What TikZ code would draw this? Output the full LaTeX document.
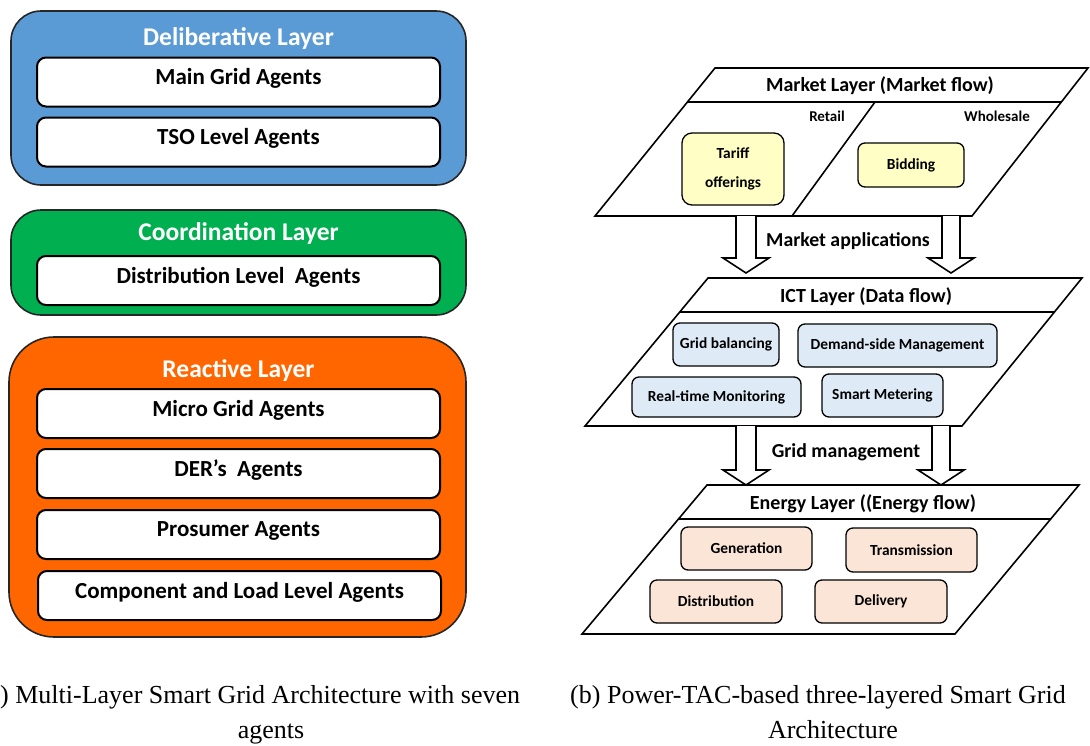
\documentclass[tikz,border=0pt]{standalone}
\usepackage{fontspec}
\setmainfont{Carlito}
\newfontfamily\captionfont{Liberation Serif}

\definecolor{delibblue}{HTML}{5B9BD5}
\definecolor{coordgreen}{HTML}{00B050}
\definecolor{reactorange}{HTML}{FF6600}
\definecolor{marketfill}{HTML}{FFFFC5}
\definecolor{ictfill}{HTML}{DEEBF7}
\definecolor{energyfill}{HTML}{FBE5D6}

% hollow arrow between two planes: x, top y, tip y, half shaft width
\newcommand{\flowarrow}[4]{%
  \draw[flowline] (#1-#4,#2) -- (#1-#4,#3-15) -- (#1-23,#3-15) -- (#1,#3)
    -- (#1+23,#3-15) -- (#1+#4,#3-15) -- (#1+#4,#2);}

\begin{document}
\begin{tikzpicture}[
    x=1pt, y=-1pt,
    layerbox/.style={
        rectangle,
        rounded corners=30pt,
        draw=black!85,
        line width=1.6pt,
        minimum width=455pt
    },
    layertitle/.style={text=white, font=\fontsize{25.5}{30}\selectfont\bfseries},
    agent/.style={
        rectangle,
        rounded corners=9pt,
        draw,
        line width=2pt,
        fill=white,
        minimum width=403pt,
        minimum height=49pt,
        text depth=11pt,
        font=\fontsize{23}{27}\selectfont\bfseries
    },
    plane/.style={draw, line width=1.6pt, fill=white, line join=miter},
    planetitle/.style={font=\fontsize{20}{24}\selectfont\bfseries},
    task/.style={
        rectangle,
        rounded corners=7pt,
        draw,
        line width=1.3pt,
        minimum height=43pt,
        font=\fontsize{15.4}{18}\selectfont\bfseries
    },
    flowline/.style={draw, line width=1.6pt, fill=white, line join=miter},
    flowlabel/.style={font=\fontsize{19.8}{23}\selectfont\bfseries},
    figcap/.style={font=\fontsize{26}{35}\selectfont\captionfont, inner sep=0pt, anchor=base}
]
    \useasboundingbox (0,0) rectangle (1090,745);

    % Deliberative layer
    \node[layerbox, fill=delibblue, minimum height=174pt] (delib) at (238.5,98) {};
    \node[layertitle] (delibtitle) at (238.5,39) {Deliberative Layer};
    \node[agent] (maingrid) at (238.5,82) {Main Grid Agents};
    \node[agent] (tso) at (238.5,142) {TSO Level Agents};

    % Coordination layer
    \node[layerbox, fill=coordgreen, minimum height=105pt] (coord) at (238.5,262.5) {};
    \node[layertitle] (coordtitle) at (238.5,234) {Coordination Layer};
    \node[agent] (distlevel) at (238.5,280.5) {Distribution Level\ \ Agents};

    % Reactive layer
    \node[layerbox, fill=reactorange, rounded corners=45pt, minimum width=457pt, minimum height=300pt] (react) at (237.5,487) {};
    \node[layertitle] (reacttitle) at (238.5,371) {Reactive Layer};
    \node[agent] (micro) at (238.5,413.5) {Micro Grid Agents};
    \node[agent] (der) at (238.5,473.5) {DER’s\ \ Agents};
    \node[agent] (prosumer) at (238.5,534.5) {Prosumer Agents};
    \node[agent] (component) at (239.5,595.5) {Component and Load Level Agents};

    % Market plane
    \draw[plane] (715,68) -- (1088,68) -- (972,216) -- (595,216) -- cycle;
    \draw[line width=1.6pt] (687.5,102) -- (1061,102);
    \draw[line width=1.6pt] (875,102) -- (792,216);
    \node[planetitle] (markettitle) at (880,86) {Market Layer (Market flow)};
    \node[font=\fontsize{15}{18}\selectfont\bfseries] (retail) at (827,116) {Retail};
    \node[font=\fontsize{15}{18}\selectfont\bfseries] (wholesale) at (997,116) {Wholesale};
    \node[task, fill=marketfill, minimum width=102pt, minimum height=72pt, rounded corners=10pt, align=center] (tariff) at (733,169) {Tariff\\[11pt]offerings};
    \node[task, fill=marketfill, minimum width=106pt, minimum height=44pt] (bidding) at (911,165) {Bidding};

    % Arrows market -> ICT
    \flowarrow{746}{216}{273}{10}
    \flowarrow{951}{216}{273}{9}
    \node[flowlabel] (marketapps) at (848,241) {Market applications};

    % ICT plane
    \draw[plane] (708,278) -- (1082,278) -- (962,426) -- (585,426) -- cycle;
    \draw[line width=1.6pt] (680,312) -- (1054.5,312);
    \node[planetitle] (icttitle) at (866,297) {ICT Layer (Data flow)};
    \node[task, fill=ictfill, minimum width=106pt] (gridbal) at (726,344.5) {Grid balancing};
    \node[task, fill=ictfill, minimum width=199pt] (dsm) at (897.5,345.5) {Demand-side Management};
    \node[task, fill=ictfill, minimum width=169pt, minimum height=40pt] (rtm) at (716.5,397) {Real-time Monitoring};
    \node[task, fill=ictfill, minimum width=121pt] (smeter) at (882.5,395.5) {Smart Metering};

    % Arrows ICT -> energy
    \flowarrow{746}{426}{485}{10}
    \flowarrow{941}{426}{485}{9}
    \node[flowlabel] (gridmgmt) at (846,452) {Grid management};

    % Energy plane
    \draw[plane] (707,485) -- (1079,485) -- (955,634) -- (582,634) -- cycle;
    \draw[line width=1.6pt] (678.5,519) -- (1050.5,519);
    \node[planetitle] (energytitle) at (863,504) {Energy Layer ((Energy flow)};
    \node[task, fill=energyfill, minimum width=131pt] (gen) at (746.5,548.5) {Generation};
    \node[task, fill=energyfill, minimum width=131pt, minimum height=44pt] (trans) at (911.5,550) {Transmission};
    \node[task, fill=energyfill, minimum width=132pt] (distr) at (716,601.5) {Distribution};
    \node[task, fill=energyfill, minimum width=132pt] (deliv) at (881,601.5) {Delivery};

    % Captions
    \node[figcap, anchor=base west] (capa) at (0,703) {) Multi-Layer Smart Grid Architecture with seven};
    \node[figcap] (capa2) at (271,738) {agents};
    \node[figcap] (capb) at (818,703) {(b) Power-TAC-based three-layered Smart Grid};
    \node[figcap] (capb2) at (833,738) {Architecture};
\end{tikzpicture}
\end{document}
